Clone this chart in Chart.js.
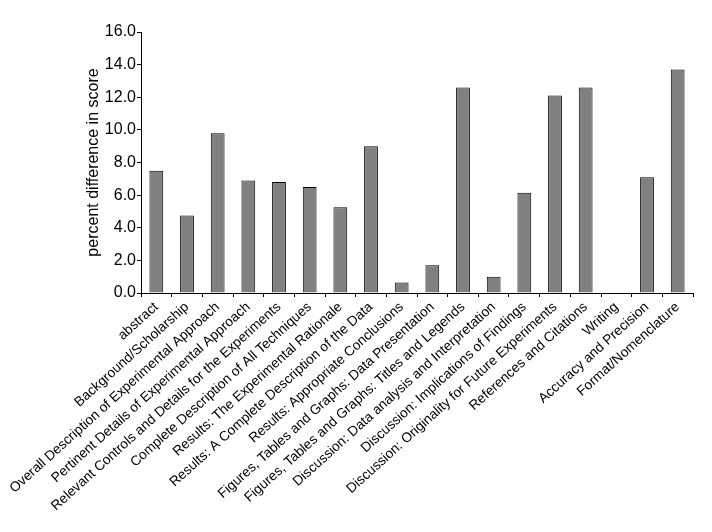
<!DOCTYPE html>
<html>
<head>
<meta charset="utf-8">
<script src="https://cdn.jsdelivr.net/npm/chart.js@4"></script>
<style>
    html, body { margin: 0; padding: 0; background: #fff; }
    #wrap { width: 712px; height: 532px; }
</style>
</head>
<body>
<div id="wrap"><canvas id="scoreChart" width="712" height="532"></canvas></div>
<script>
// Categories and values
const categories = [
    'abstract',
    'Background/Scholarship',
    'Overall Description of Experimental Approach',
    'Pertinent Details of Experimental Approach',
    'Relevant Controls and Details for the Experiments',
    'Complete Description of All Techniques',
    'Results: The Experimental Rationale',
    'Results: A Complete Description of the Data',
    'Results: Appropriate Conclusions',
    'Figures, Tables and Graphs: Data Presentation',
    'Figures, Tables and Graphs: Titles and Legends',
    'Discussion: Data analysis and Interpretation',
    'Discussion: Implications of Findings',
    'Discussion: Originality for Future Experiments',
    'References and Citations',
    'Writing',
    'Accuracy and Precision',
    'Format/Nomenclature'
];
const scoreDiff = [7.5, 4.75, 9.8, 6.9, 6.8, 6.5, 5.25, 9.0, 0.65, 1.7, 12.6, 1.0, 6.15, 12.1, 12.6, 0, 7.1, 13.7];
const yTicks = [0, 2, 4, 6, 8, 10, 12, 14, 16];
const yTitle = 'percent difference in score';

const font = "'Liberation Sans', Arial, sans-serif";

document.addEventListener('DOMContentLoaded', function() {
    const ctx = document.getElementById('scoreChart');
    new Chart(ctx, {
        type: 'bar',
        data: {
            labels: categories,
            datasets: [{
                data: scoreDiff,
                backgroundColor: '#808080',
                borderColor: '#000000',
                borderWidth: 1,
                categoryPercentage: 1.0,
                barPercentage: 0.45
            }]
        },
        options: {
            responsive: false,
            animation: false,
            plugins: {
                legend: { display: false },
                tooltip: { enabled: false }
            },
            layout: {
                padding: { left: 84, top: 32, right: 19, bottom: 0 }
            },
            scales: {
                x: {
                    offset: true,
                    grid: {
                        display: true,
                        offset: true,
                        drawOnChartArea: false,
                        tickLength: 4,
                        color: '#000'
                    },
                    border: { color: '#000', width: 1 },
                    ticks: {
                        autoSkip: false,
                        maxRotation: 42,
                        minRotation: 42,
                        padding: 2,
                        color: '#000',
                        font: { family: font, size: 13.7 }
                    },
                    afterFit: function(scale) {
                        scale.height = 239;
                        scale.paddingLeft = 0;
                        scale.paddingRight = 0;
                    }
                },
                y: {
                    min: 0,
                    max: 16,
                    afterBuildTicks: function(scale) {
                        scale.ticks = yTicks.map(v => ({ value: v }));
                    },
                    grid: {
                        display: true,
                        drawOnChartArea: false,
                        tickLength: 4,
                        color: '#000'
                    },
                    border: { color: '#000', width: 1 },
                    ticks: {
                        padding: 1,
                        color: '#000',
                        font: { family: font, size: 16 },
                        callback: function(value) {
                            return Number(value).toFixed(1);
                        }
                    },
                    title: {
                        display: true,
                        text: yTitle,
                        color: '#000',
                        font: { family: font, size: 16 },
                        padding: 0
                    },
                    afterFit: function(scale) {
                        scale.width = 57;
                        scale.paddingTop = 0;
                        scale.paddingBottom = 0;
                    }
                }
            }
        }
    });
});
</script>
</body>
</html>
